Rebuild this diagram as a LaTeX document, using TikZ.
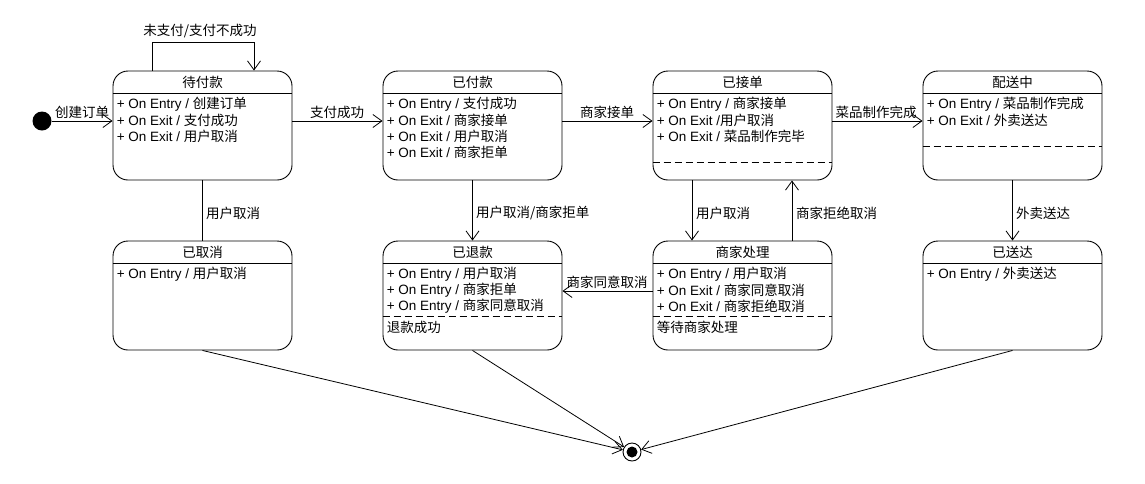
\documentclass[tikz,border=0pt]{standalone}
\usepackage{fontspec}
\setmainfont{Liberation Sans}
\newfontfamily\cjk{Noto Sans CJK SC}
\newcommand\zh[1]{{\cjk #1}}
\usetikzlibrary{arrows.meta,calc}
\begin{document}
\begin{tikzpicture}[x=1pt,y=-1pt,
  every node/.style={font=\fontsize{13.5}{16}\selectfont},
  st/.style={draw, rounded corners=15pt, minimum width=179pt, minimum height=109pt, inner sep=0pt, line width=0.9pt},
  ttl/.style={inner sep=0pt, font=\fontsize{13.5}{16}\selectfont\cjk},
  bl/.style={anchor=west, inner sep=0pt},
  lbl/.style={inner sep=0pt, font=\fontsize{13.5}{16}\selectfont\cjk},
  arr/.style={line width=0.8pt, -{Straight Barb[length=9pt,width=13pt,line width=0.8pt]}},
  ln/.style={line width=0.8pt},
  dsh/.style={line width=0.8pt, dash pattern=on 7pt off 4pt}
]
\useasboundingbox (0,0) rectangle (1145,483);

% states
\node[st] (A) at (202.5,125.5) {};
\node[st] (B) at (472.5,125.5) {};
\node[st] (C) at (742.5,125.5) {};
\node[st] (D) at (1012.5,125.5) {};
\node[st] (E) at (202.5,295.5) {};
\node[st] (F) at (472.5,295.5) {};
\node[st] (G) at (742.5,295.5) {};
\node[st] (H) at (1012.5,295.5) {};

% header separators
\foreach \s in {A,B,C,D,E,F,G,H}{
  \draw[ln] ($(\s.north west)+(0,23)$) -- ($(\s.north east)+(0,23)$);
}
% dashed separators
\draw[dsh] ($(C.north west)+(0,92)$) -- ($(C.north east)+(0,92)$);
\draw[dsh] ($(D.north west)+(0,76)$) -- ($(D.north east)+(0,76)$);
\draw[dsh] ($(F.north west)+(0,76)$) -- ($(F.north east)+(0,76)$);
\draw[dsh] ($(G.north west)+(0,76)$) -- ($(G.north east)+(0,76)$);

% titles
\node[ttl] (At) at ($(A.north)+(0,12)$) {待付款};
\node[ttl] (Bt) at ($(B.north)+(0,12)$) {已付款};
\node[ttl] (Ct) at ($(C.north)+(0,12)$) {已接单};
\node[ttl] (Dt) at ($(D.north)+(0,12)$) {配送中};
\node[ttl] (Et) at ($(E.north)+(0,12)$) {已取消};
\node[ttl] (Ft) at ($(F.north)+(0,12)$) {已退款};
\node[ttl] (Gt) at ($(G.north)+(0,12)$) {商家处理};
\node[ttl] (Ht) at ($(H.north)+(0,12)$) {已送达};

% bodies
\node[bl] (A1) at ($(A.north west)+(4,34)$) {+ On Entry / \zh{创建订单}};
\node[bl] (A2) at ($(A.north west)+(4,50)$) {+ On Exit / \zh{支付成功}};
\node[bl] (A3) at ($(A.north west)+(4,66)$) {+ On Exit / \zh{用户取消}};

\node[bl] (B1) at ($(B.north west)+(4,34)$) {+ On Entry / \zh{支付成功}};
\node[bl] (B2) at ($(B.north west)+(4,50)$) {+ On Exit / \zh{商家接单}};
\node[bl] (B3) at ($(B.north west)+(4,66)$) {+ On Exit / \zh{用户取消}};
\node[bl] (B4) at ($(B.north west)+(4,82)$) {+ On Exit / \zh{商家拒单}};

\node[bl] (C1) at ($(C.north west)+(4,34)$) {+ On Entry / \zh{商家接单}};
\node[bl] (C2) at ($(C.north west)+(4,50)$) {+ On Exit /\zh{用户取消}};
\node[bl] (C3) at ($(C.north west)+(4,66)$) {+ On Exit / \zh{菜品制作完毕}};

\node[bl] (D1) at ($(D.north west)+(4,34)$) {+ On Entry / \zh{菜品制作完成}};
\node[bl] (D2) at ($(D.north west)+(4,50)$) {+ On Exit / \zh{外卖送达}};

\node[bl] (E1) at ($(E.north west)+(4,34)$) {+ On Entry / \zh{用户取消}};

\node[bl] (F1) at ($(F.north west)+(4,34)$) {+ On Entry / \zh{用户取消}};
\node[bl] (F2) at ($(F.north west)+(4,50)$) {+ On Entry / \zh{商家拒单}};
\node[bl] (F3) at ($(F.north west)+(4,66)$) {+ On Entry / \zh{商家同意取消}};
\node[bl] (F4) at ($(F.north west)+(4,87)$) {\zh{退款成功}};

\node[bl] (G1) at ($(G.north west)+(4,34)$) {+ On Entry / \zh{用户取消}};
\node[bl] (G2) at ($(G.north west)+(4,50)$) {+ On Exit / \zh{商家同意取消}};
\node[bl] (G3) at ($(G.north west)+(4,66)$) {+ On Exit / \zh{商家拒绝取消}};
\node[bl] (G4) at ($(G.north west)+(4,87)$) {\zh{等待商家处理}};

\node[bl] (H1) at ($(H.north west)+(4,34)$) {+ On Entry / \zh{外卖送达}};

% initial and final
\node[circle, fill=black, minimum size=19pt, inner sep=0pt] (init) at (42,121) {};
\node[circle, draw, line width=0.9pt, minimum size=18pt, inner sep=0pt] (fin) at (632,452) {};
\fill (fin.center) circle (5.5);

\coordinate (r1) at (0,121);
\coordinate (r2) at (0,291);
\coordinate (x1) at (692,0);
\coordinate (x2) at (792,0);

% transitions
\draw[arr] (init.east) -- (A.west |- r1);
\node[lbl] (l1) at (82,112) {创建订单};

\draw[arr] (A.north -| 152,0) -- ++(0,-28) -| (A.north -| 254,0);
\node[lbl] (l2) at (200,31) {未支付/支付不成功};

\draw[arr] (A.east |- r1) -- (B.west |- r1);
\node[lbl] (l3) at (337,112) {支付成功};

\draw[arr] (B.east |- r1) -- (C.west |- r1);
\node[lbl] (l4) at (607,112) {商家接单};

\draw[arr] (C.east |- r1) -- (D.west |- r1);
\node[lbl] (l5) at (876,112) {菜品制作完成};

\draw[ln] (A.south) -- (E.north);
\node[lbl, anchor=west] (l6) at (206,213) {用户取消};

\draw[arr] (B.south) -- (F.north);
\node[lbl, anchor=west] (l7) at (476,213) {用户取消/商家拒单};

\draw[arr] (C.south -| x1) -- (G.north -| x1);
\node[lbl, anchor=west] (l8) at (696,213) {用户取消};

\draw[arr] (G.north -| x2) -- (C.south -| x2);
\node[lbl, anchor=west] (l9) at (796,213) {商家拒绝取消};

\draw[arr] (D.south) -- (H.north);
\node[lbl, anchor=west] (l10) at (1016,213) {外卖送达};

\draw[arr] (G.west |- r2) -- (F.east |- r2);
\node[lbl] (l11) at (607,282) {商家同意取消};

\draw[arr] (E.south) -- (fin);
\draw[arr] (F.south) -- (fin);
\draw[arr] (H.south) -- (fin);
\end{tikzpicture}
\end{document}
